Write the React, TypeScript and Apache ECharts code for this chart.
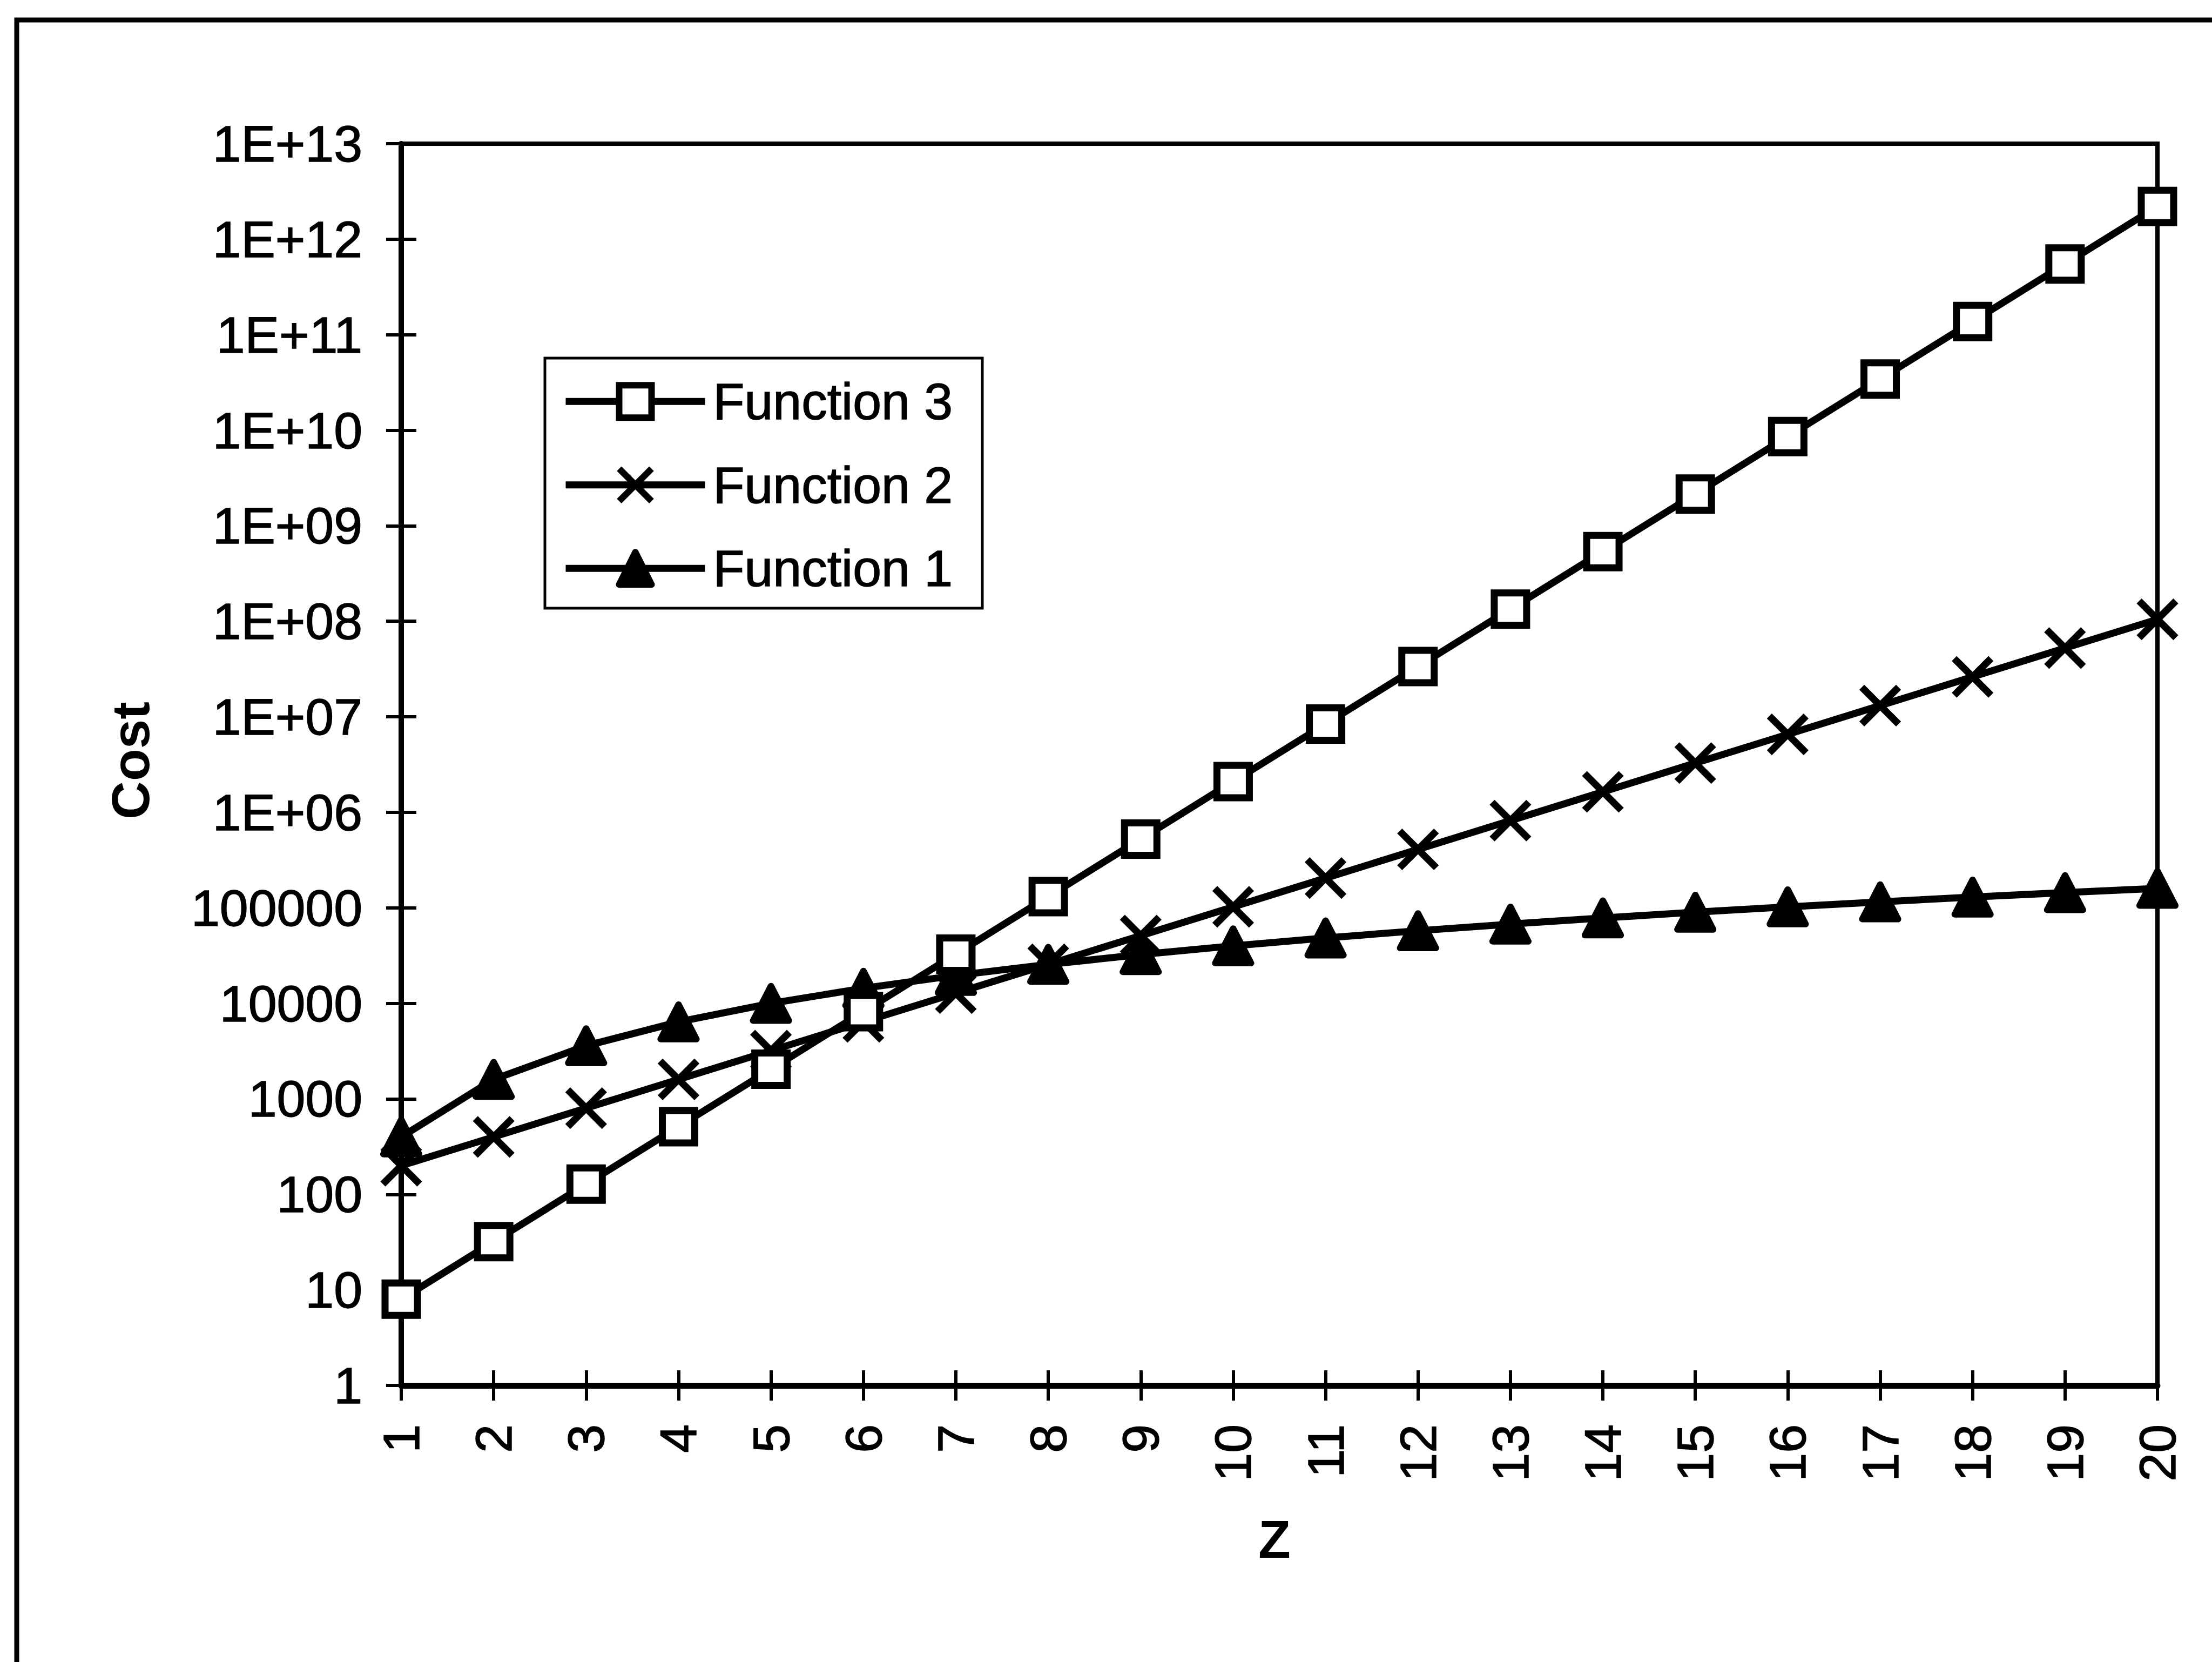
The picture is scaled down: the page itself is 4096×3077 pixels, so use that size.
import React, { useEffect, useRef } from 'react';
import * as echarts from 'echarts';

const categories = ['1', '2', '3', '4', '5', '6', '7', '8', '9', '10', '11', '12', '13', '14', '15', '16', '17', '18', '19', '20'];

const function1 = [400, 1600, 3600, 6400, 10000, 14400, 19600, 25600, 32400, 40000, 48400, 57600, 67600, 78400, 90000, 102400, 115600, 129600, 144400, 160000];

const function2 = [200, 400, 800, 1600, 3200, 6400, 12800, 25600, 51200, 102400, 204800, 409600, 819200, 1638400, 3276800, 6553600, 13107200, 26214400, 52428800, 104857600];

const function3 = [8, 32, 128, 512, 2048, 8192, 32768, 131072, 524288, 2097152, 8388608, 33554432, 134217728, 536870912, 2147483648, 8589934592, 34359738368, 137438953472, 549755813888, 2199023255552];

const yTickLabels = ['1', '10', '100', '1000', '10000', '100000', '1E+06', '1E+07', '1E+08', '1E+09', '1E+10', '1E+11', '1E+12', '1E+13'];

const legendOrder = ['Function 3', 'Function 2', 'Function 1'];

const FONT = '"Liberation Sans", Arial, sans-serif';
const X_SYMBOL = 'path://M0,0L100,100M100,0L0,100';

export default function App() {
  const ref = useRef<HTMLDivElement>(null);

  useEffect(() => {
    document.body.style.margin = '0';
    if (!ref.current) return;
    const chart = echarts.init(ref.current, null, { renderer: 'svg' });

    const yLabel = (v: number) => {
      const i = Math.round(Math.log10(v));
      return yTickLabels[i] ?? '';
    };

    const tickStyle = { color: '#000', width: 6 };
    const labelText = { fontSize: 95, color: '#000', fontFamily: FONT, textBorderColor: '#000', textBorderWidth: 1.5 };

    chart.setOption({
      animation: false,
      backgroundColor: '#fff',
      grid: {
        left: 743,
        top: 266,
        width: 3252,
        height: 2299,
        show: true,
        borderColor: '#000',
        borderWidth: 8,
        backgroundColor: 'transparent',
      },
      xAxis: [
        {
          type: 'category',
          data: categories,
          boundaryGap: false,
          position: 'bottom',
          axisLine: { show: true, onZero: false, lineStyle: { color: '#000', width: 11 } },
          axisTick: { show: true, interval: 0, inside: false, length: 28, lineStyle: tickStyle },
          axisLabel: { show: true, interval: 0, rotate: 90, margin: 72, ...labelText },
          splitLine: { show: false },
        },
        {
          type: 'category',
          data: categories,
          boundaryGap: false,
          position: 'bottom',
          axisLine: { show: false, onZero: false },
          axisTick: { show: true, interval: 0, inside: true, length: 28, lineStyle: tickStyle },
          axisLabel: { show: false },
          splitLine: { show: false },
        },
      ],
      yAxis: [
        {
          type: 'log',
          logBase: 10,
          min: 1,
          max: 1e13,
          interval: 1,
          splitNumber: 13,
          position: 'left',
          axisLine: { show: true, lineStyle: { color: '#000', width: 10 } },
          axisTick: { show: true, inside: false, length: 28, lineStyle: tickStyle },
          axisLabel: { show: true, margin: 72, ...labelText, formatter: yLabel },
          splitLine: { show: false },
          minorTick: { show: false },
        },
        {
          type: 'log',
          logBase: 10,
          min: 1,
          max: 1e13,
          interval: 1,
          splitNumber: 13,
          position: 'left',
          axisLine: { show: false },
          axisTick: { show: true, inside: true, length: 28, lineStyle: tickStyle },
          axisLabel: { show: false },
          splitLine: { show: false },
          minorTick: { show: false },
        },
      ],
      legend: {
        show: true,
        data: legendOrder,
        orient: 'vertical',
        left: 1041,
        top: 695,
        padding: 0,
        itemWidth: 258,
        itemHeight: 75,
        itemGap: 58,
        z: 20,
        textStyle: { ...labelText, padding: [0, 0, 0, 10] },
        itemStyle: { borderWidth: 12, borderColor: '#000' },
        lineStyle: { width: 13, color: '#000' },
        selectedMode: false,
      },
      graphic: [
        {
          type: 'rect',
          z: 0,
          silent: true,
          shape: { x: 31, y: 37, width: 8000, height: 8000 },
          style: { fill: 'none', stroke: '#000', lineWidth: 9 },
        },
        {
          type: 'rect',
          z: 10,
          silent: true,
          shape: { x: 1009, y: 663, width: 810, height: 463 },
          style: { fill: '#fff', stroke: '#000', lineWidth: 5 },
        },
        {
          type: 'text',
          z: 10,
          x: 242,
          y: 1408,
          rotation: Math.PI / 2,
          style: { text: 'Cost', fontSize: 98, fontWeight: 'bold', fontFamily: FONT, fill: '#000', align: 'center', verticalAlign: 'middle' },
        },
        {
          type: 'text',
          z: 10,
          x: 2360,
          y: 2850,
          style: { text: 'Z', fontSize: 98, fontWeight: 'bold', fontFamily: FONT, fill: '#000', align: 'center', verticalAlign: 'middle' },
        },
      ],
      series: [
        {
          name: 'Function 1',
          type: 'line',
          data: function1,
          xAxisIndex: 0,
          yAxisIndex: 0,
          showSymbol: true,
          showAllSymbol: true,
          symbol: 'triangle',
          symbolSize: [66, 64],
          lineStyle: { color: '#000', width: 13 },
          itemStyle: { color: '#000', borderColor: '#000', borderWidth: 12, borderJoin: 'round' },
          emphasis: { disabled: true },
          z: 3,
        },
        {
          name: 'Function 2',
          type: 'line',
          data: function2,
          xAxisIndex: 0,
          yAxisIndex: 0,
          showSymbol: true,
          showAllSymbol: true,
          symbol: X_SYMBOL,
          symbolSize: 68,
          lineStyle: { color: '#000', width: 13 },
          itemStyle: { color: '#000', borderColor: '#000', borderWidth: 13 },
          emphasis: { disabled: true },
          z: 3,
        },
        {
          name: 'Function 3',
          type: 'line',
          data: function3,
          xAxisIndex: 0,
          yAxisIndex: 0,
          showSymbol: true,
          showAllSymbol: true,
          symbol: 'rect',
          symbolSize: 60,
          lineStyle: { color: '#000', width: 13 },
          itemStyle: { color: '#fff', borderColor: '#000', borderWidth: 13 },
          emphasis: { disabled: true },
          z: 3,
        },
      ],
    });

    return () => chart.dispose();
  }, []);

  return <div ref={ref} style={{ width: 4096, height: 3077 }} />;
}
